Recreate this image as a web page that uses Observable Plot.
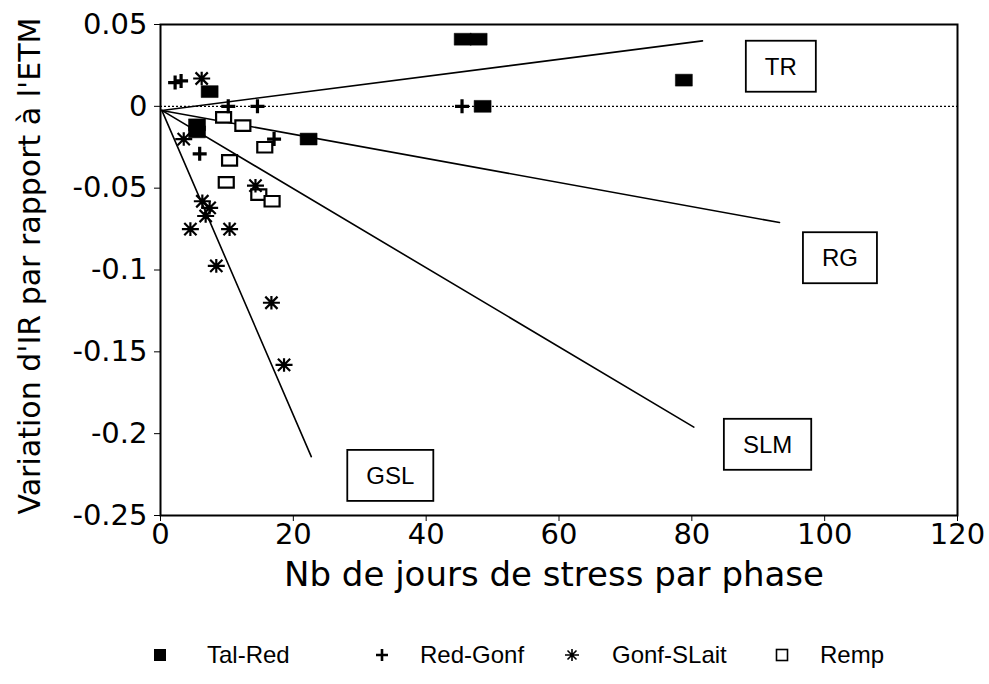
<!DOCTYPE html>
<html>
<head>
<meta charset="utf-8">
<script src="https://cdn.jsdelivr.net/npm/d3@7"></script>
<script src="https://cdn.jsdelivr.net/npm/@observablehq/plot@0.6"></script>
<style>
  html, body { margin: 0; padding: 0; background: #fff; }
  #legend { position: relative; width: 989px; height: 59px; font-family: "Liberation Sans", Arial, sans-serif; font-size: 24px; color: #000; }
  #legend .item { position: absolute; top: 16px; display: flex; align-items: center; white-space: nowrap; }
  #legend svg { display: block; }
</style>
</head>
<body>
<div id="chart"></div>
<div id="legend"></div>
<script>
// ---- data ----
const seriesNames = ["Tal-Red", "Red-Gonf", "Gonf-SLait", "Remp"];

const talRedX = [7.4, 5.5, 5.5, 22.3, 45.5, 47.9, 48.5, 78.8];
const talRedY = [0.009, -0.0113, -0.0156, -0.020, 0.041, 0.041, 0.0, 0.016];

const redGonfX = [2.2, 3.1, 10.2, 14.6, 45.4, 5.9, 17.1];
const redGonfY = [0.0145, 0.0155, 0.0, 0.0, 0.0, -0.029, -0.020];

const gonfSLaitX = [6.2, 3.5, 14.3, 6.3, 7.4, 6.8, 4.5, 10.4, 8.4, 16.7, 18.6];
const gonfSLaitY = [0.017, -0.020, -0.0485, -0.058, -0.062, -0.067, -0.075, -0.075, -0.0975, -0.120, -0.158];

const rempX = [9.5, 12.4, 15.7, 10.4, 9.9, 14.8, 16.8];
const rempY = [-0.0067, -0.0118, -0.025, -0.033, -0.0465, -0.054, -0.058];

// trend lines (start, end)
const trendNames = ["TR", "RG", "SLM", "GSL"];
const trendStartX = [0.2, 0.2, 0.2, 0.2];
const trendStartY = [-0.0025, -0.0025, -0.0025, -0.0025];
const trendEndX = [81.6, 93.2, 80.3, 22.7];
const trendEndY = [0.040, -0.071, -0.196, -0.214];

// boxed labels
const labelNames = ["TR", "RG", "SLM", "GSL"];
const labelX = [93.4, 102.3, 91.4, 34.6];
const labelY = [0.024, -0.093, -0.207, -0.226];

const xTicks = [0, 20, 40, 60, 80, 100, 120];
const yTicks = [0.05, 0, -0.05, -0.1, -0.15, -0.2, -0.25];

const xTitle = "Nb de jours de stress par phase";
const yTitle = "Variation d'IR par rapport à l'ETM";

// ---- build tables ----
const pts = (xs, ys) => xs.map((x, i) => ({x, y: ys[i]}));
const talRed = pts(talRedX, talRedY);
const redGonf = pts(redGonfX, redGonfY);
const gonfSLait = pts(gonfSLaitX, gonfSLaitY);
const remp = pts(rempX, rempY);
const trends = trendNames.flatMap((name, i) => [
  {name, x: trendStartX[i], y: trendStartY[i]},
  {name, x: trendEndX[i], y: trendEndY[i]}
]);
const labels = labelNames.map((name, i) => ({name, x: labelX[i], y: labelY[i]}));

// ---- custom symbols ----
const rectSym = {draw(ctx, size) {
  const r = Math.sqrt(size / Math.PI), w = r, h = r * 0.7;
  ctx.moveTo(-w, -h); ctx.lineTo(w, -h); ctx.lineTo(w, h); ctx.lineTo(-w, h); ctx.closePath();
}};
const plusSym = {draw(ctx, size) {
  const r = Math.sqrt(size / Math.PI);
  ctx.moveTo(-r, 0); ctx.lineTo(r, 0); ctx.moveTo(0, -r); ctx.lineTo(0, r);
}};
const asterSym = {draw(ctx, size) {
  const r = Math.sqrt(size / Math.PI), d = r * 0.72;
  ctx.moveTo(-r, 0); ctx.lineTo(r, 0);
  ctx.moveTo(0, -r * 0.8); ctx.lineTo(0, r * 0.8);
  ctx.moveTo(-d, -d); ctx.lineTo(d, d);
  ctx.moveTo(-d, d); ctx.lineTo(d, -d);
}};

const fmt = d => d === 0 ? "0" : String(+d.toFixed(2));

const chart = Plot.plot({
  width: 989,
  height: 625,
  marginLeft: 160,
  marginRight: 32,
  marginTop: 24,
  marginBottom: 110,
  style: {fontFamily: "'DejaVu Sans', sans-serif", fontSize: "29px", color: "#000", background: "#fff"},
  x: {domain: [0, 120]},
  y: {domain: [-0.25, 0.05]},
  marks: [
    Plot.ruleY([0], {stroke: "#000", strokeWidth: 1.3, strokeDasharray: "2,2"}),
    Plot.line(trends, {x: "x", y: "y", z: "name", stroke: "#000", strokeWidth: 1.6}),
    Plot.dot(remp, {x: "x", y: "y", symbol: rectSym, r: 7.5, fill: "#fff", stroke: "#000", strokeWidth: 2.2}),
    Plot.dot(gonfSLait, {x: "x", y: "y", symbol: asterSym, r: 8.5, fill: "none", stroke: "#000", strokeWidth: 2.2}),
    Plot.dot(redGonf, {x: "x", y: "y", symbol: plusSym, r: 7, fill: "none", stroke: "#000", strokeWidth: 3.2}),
    Plot.dot(talRed, {x: "x", y: "y", symbol: rectSym, r: 8.5, fill: "#000", stroke: "#000", strokeWidth: 0.5}),
    Plot.text(labels, {x: "x", y: "y", text: "name", fontSize: 24, fontFamily: "'Liberation Sans', Arial, sans-serif", fill: "#000", className: "boxlab"}),
    Plot.frame({stroke: "#000", strokeWidth: 2}),
    Plot.axisX({ticks: xTicks, tickFormat: fmt, tickSize: 6, tickPadding: 2, label: null}),
    Plot.axisY({ticks: yTicks, tickFormat: fmt, tickSize: 6, tickPadding: 7, label: null}),
    Plot.text([xTitle], {frameAnchor: "bottom", textAnchor: "middle", dy: 70, dx: -5, fontSize: 34, fill: "#000"}),
    Plot.text([yTitle], {frameAnchor: "left", textAnchor: "middle", rotate: -90, dx: -130, dy: -4, fontSize: 30, fill: "#000"})
  ]
});
document.getElementById("chart").append(chart);

// draw boxes around the trend labels
const svgNS = "http://www.w3.org/2000/svg";
chart.querySelectorAll("g.boxlab text").forEach(t => {
  const b = t.getBBox();
  const r = document.createElementNS(svgNS, "rect");
  r.setAttribute("x", b.x - 19);
  r.setAttribute("y", b.y - 12);
  r.setAttribute("width", b.width + 38);
  r.setAttribute("height", b.height + 24);
  r.setAttribute("fill", "#fff");
  r.setAttribute("stroke", "#000");
  r.setAttribute("stroke-width", 1.8);
  if (t.getAttribute("transform")) r.setAttribute("transform", t.getAttribute("transform"));
  t.parentNode.insertBefore(r, t);
});

// legend
const legendSymbols = [
  '<rect x="1" y="1" width="12" height="12" fill="#000"/>',
  '<path d="M1,7H13M7,1V13" stroke="#000" stroke-width="2.6" fill="none"/>',
  '<path d="M0,7H14M7,1V13M2.5,2.5L11.5,11.5M2.5,11.5L11.5,2.5" stroke="#000" stroke-width="1.6" fill="none"/>',
  '<rect x="1.5" y="1.5" width="11" height="11" fill="#fff" stroke="#000" stroke-width="1.6"/>'
];
const symLeft = [153, 375, 565, 775];
const textLeft = [207, 420, 612, 820];
const leg = document.getElementById("legend");
seriesNames.forEach((name, i) => {
  const s = document.createElement("div");
  s.className = "item";
  s.style.left = symLeft[i] + "px";
  s.style.top = "23px";
  s.innerHTML = `<svg width="14" height="14">${legendSymbols[i]}</svg>`;
  leg.append(s);
  const t = document.createElement("div");
  t.className = "item";
  t.style.left = textLeft[i] + "px";
  t.textContent = name;
  leg.append(t);
});
</script>
</body>
</html>
